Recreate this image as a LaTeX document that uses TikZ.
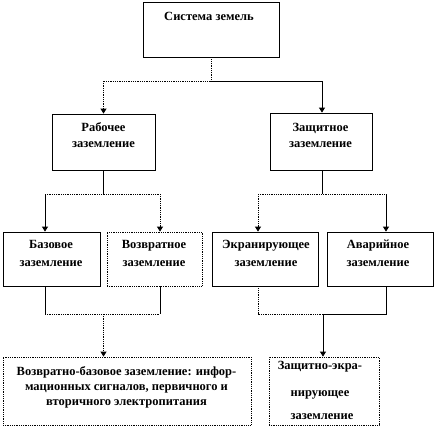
\documentclass[tikz,border=0pt]{standalone}
\usepackage{fontspec}
\setmainfont{Liberation Serif}
\usetikzlibrary{arrows.meta}
\begin{document}
\begin{tikzpicture}[x=1pt,y=-1pt,
  box/.style={draw, line width=0.8pt, inner sep=0pt, fill=white},
  dbox/.style={box, densely dotted},
  lbl/.style={font=\bfseries\fontsize{12.5}{15}\selectfont, inner sep=0pt, anchor=base},
  ln/.style={line width=0.8pt},
  dln/.style={line width=0.8pt, densely dotted},
  arr/.style={-{Triangle[width=6pt,length=5pt]}}]
\useasboundingbox (0,0) rectangle (436,428);
% boxes
\node[box, minimum width=136pt, minimum height=55pt] (top) at (211,29.5) {};
\node[box, minimum width=103pt, minimum height=56pt] (rab) at (103.5,142) {};
\node[box, minimum width=102pt, minimum height=57pt] (zas) at (321,141.5) {};
\node[box, minimum width=97pt, minimum height=54pt] (b1) at (51.5,259) {};
\node[dbox, minimum width=95pt, minimum height=54pt] (b2) at (154.5,259) {};
\node[box, minimum width=106pt, minimum height=54pt] (b3) at (265,259) {};
\node[box, minimum width=106pt, minimum height=54pt] (b4) at (380,259) {};
\node[dbox, minimum width=248pt, minimum height=68pt] (bl) at (127,391) {};
\node[dbox, minimum width=110pt, minimum height=68pt] (br) at (324,391) {};
% texts
\node[lbl] (t0) at (209,20.5) {Система земель};
\node[lbl] (t1a) at (103.5,131.5) {Рабочее};
\node[lbl] (t1b) at (103.5,147.5) {заземление};
\node[lbl] (t2a) at (320.5,131.5) {Защитное};
\node[lbl] (t2b) at (320.5,147.5) {заземление};
\node[lbl] (t3a) at (51,248.5) {Базовое};
\node[lbl] (t3b) at (51,266.5) {заземление};
\node[lbl] (t4a) at (154,248) {Возвратное};
\node[lbl] (t4b) at (154,266.5) {заземление};
\node[lbl] (t5a) at (266,248.5) {Экранирующее};
\node[lbl] (t5b) at (266,266.5) {заземление};
\node[lbl] (t6a) at (378,248.5) {Аварийное};
\node[lbl] (t6b) at (378,266.5) {заземление};
\node[lbl] (t7a) at (126.5,375.5) {Возвратно-базовое заземление: инфор-};
\node[lbl] (t7b) at (126.5,390.5) {мационных сигналов, первичного и};
\node[lbl] (t7c) at (126.5,405.5) {вторичного электропитания};
\node[lbl] (t8a) at (320,369.5) {Защитно-экра-};
\node[lbl] (t8b) at (320,396.5) {нирующее};
\node[lbl] (t8c) at (322,419.5) {заземление};
% junctions
\coordinate (j0) at (211,81);
\coordinate (jl) at (103.5,81);
\coordinate (jr) at (322,81);
\coordinate (k0) at (103.5,194);
\coordinate (k1) at (45,194);
\coordinate (k2) at (160,194);
\coordinate (m0) at (322,194);
\coordinate (m1) at (258,194);
\coordinate (m2) at (386,194);
\coordinate (p1) at (45,314);
\coordinate (p2) at (160,314);
\coordinate (p0) at (103.5,314);
\coordinate (q1) at (258,314);
\coordinate (q2) at (386,314);
\coordinate (q0) at (323,314);
% connectors
\draw[dln] (top.south) -- (j0) -- (jl);
\draw[dln, arr] (jl) -- (rab.north);
\draw[ln] (j0) -- (jr);
\draw[ln, arr] (jr) -- (jr |- zas.north);
\draw[ln] (rab.south) -- (k0);
\draw[dln] (k1) -- (k2);
\draw[ln, arr] (k1) -- (k1 |- b1.north);
\draw[dln, arr] (k2) -- (k2 |- b2.north);
\draw[ln] (zas.south -| m0) -- (m0);
\draw[dln] (m1) -- (m2);
\draw[dln, arr] (m1) -- (m1 |- b3.north);
\draw[ln, arr] (m2) -- (m2 |- b4.north);
\draw[ln] (p1 |- b1.south) -- (p1);
\draw[ln] (p2 |- b2.south) -- (p2);
\draw[dln] (p1) -- (p2);
\draw[dln, arr] (p0) -- (p0 |- bl.north);
\draw[dln] (q1 |- b3.south) -- (q1) -- (q0);
\draw[ln] (q2 |- b4.south) -- (q2) -- (q0);
\draw[ln, arr] (q0) -- (q0 |- br.north);
\end{tikzpicture}
\end{document}
